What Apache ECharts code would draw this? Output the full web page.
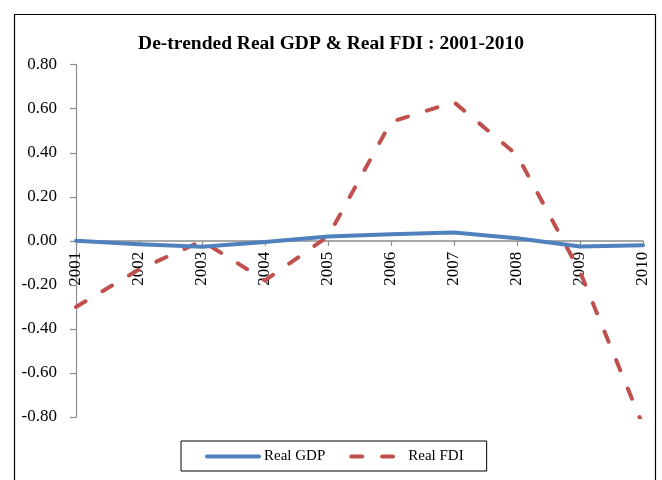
<!DOCTYPE html>
<html>
<head>
<meta charset="utf-8">
<style>
  html, body { margin: 0; padding: 0; background: #fff; }
  #chart { width: 662px; height: 480px; }
</style>
<script src="https://cdn.jsdelivr.net/npm/echarts@6/dist/echarts.min.js"></script>
</head>
<body>
<div id="chart"></div>
<script>
// Years on the category axis
const years = ['2001', '2002', '2003', '2004', '2005', '2006', '2007', '2008', '2009', '2010'];
// De-trended series values
const realGDP = [0.000, -0.015, -0.027, -0.005, 0.020, 0.030, 0.038, 0.012, -0.026, -0.020];
const realFDI = [-0.30, -0.13, 0.00, -0.18, 0.02, 0.54, 0.63, 0.39, -0.14, -0.84];
// Value-axis settings
const yMin = -0.8, yMax = 0.8, yStep = 0.2;

const serif = '"Liberation Serif", "DejaVu Serif", serif';
const gridTop = 64.7, gridBottom = 63, chartH = 480;
const plotH = chartH - gridTop - gridBottom;
// distance from the bottom of the plot up to the zero line
const zeroLift = plotH * (0 - yMin) / (yMax - yMin);

const chart = echarts.init(document.getElementById('chart'), null, { renderer: 'canvas' });

chart.setOption({
  animation: false,
  backgroundColor: '#ffffff',
  title: {
    text: 'De-trended Real GDP & Real FDI : 2001-2010',
    left: 'center',
    top: 29,
    textStyle: { fontFamily: serif, fontSize: 19.5, fontWeight: 'bold', color: '#000' }
  },
  graphic: [{
    type: 'rect',
    shape: { x: 14.5, y: 14.5, width: 641, height: 480 },
    style: { fill: 'none', stroke: '#000', lineWidth: 1.2 },
    silent: true
  }],
  grid: { left: 76, right: 19, top: gridTop, bottom: gridBottom, containLabel: false },
  legend: {
    left: 181,
    top: 441,
    padding: [8, 23, 7, 24],
    itemGap: 24,
    itemWidth: 52,
    itemHeight: 12,
    borderColor: '#000',
    borderWidth: 1,
    itemStyle: { opacity: 0 },
    lineStyle: { width: 4, cap: 'round' },
    textStyle: { fontFamily: serif, fontSize: 15, color: '#000' },
    data: ['Real GDP', 'Real FDI']
  },
  xAxis: {
    type: 'category',
    data: years,
    boundaryGap: false,
    offset: -zeroLift,
    axisLine: { onZero: false, lineStyle: { color: '#8c8c8c', width: 1.5 } },
    axisTick: { show: true, length: 5, lineStyle: { color: '#8c8c8c', width: 1.2 } },
    axisLabel: {
      rotate: 90,
      margin: 11,
      interval: 0,
      fontFamily: serif,
      fontSize: 17,
      color: '#000'
    },
    splitLine: { show: false }
  },
  yAxis: {
    type: 'value',
    min: yMin,
    max: yMax,
    interval: yStep,
    axisLine: { show: true, lineStyle: { color: '#8c8c8c', width: 1.2 } },
    axisTick: { show: true, length: 6, lineStyle: { color: '#8c8c8c', width: 1.2 } },
    axisLabel: {
      margin: 19,
      fontFamily: serif,
      fontSize: 17,
      color: '#000',
      formatter: v => v.toFixed(2)
    },
    splitLine: { show: false }
  },
  series: [
    {
      name: 'Real GDP',
      type: 'line',
      data: realGDP,
      symbol: 'none',
      lineStyle: { color: '#4F81BD', width: 4, cap: 'round', join: 'round' },
      itemStyle: { color: '#4F81BD' },
      z: 3
    },
    {
      name: 'Real FDI',
      type: 'line',
      data: realFDI,
      symbol: 'none',
      clip: true,
      lineStyle: { color: '#C0504D', width: 4, type: [11, 19.8], cap: 'round', join: 'round' },
      itemStyle: { color: '#C0504D' },
      z: 2
    }
  ]
});
</script>
</body>
</html>
